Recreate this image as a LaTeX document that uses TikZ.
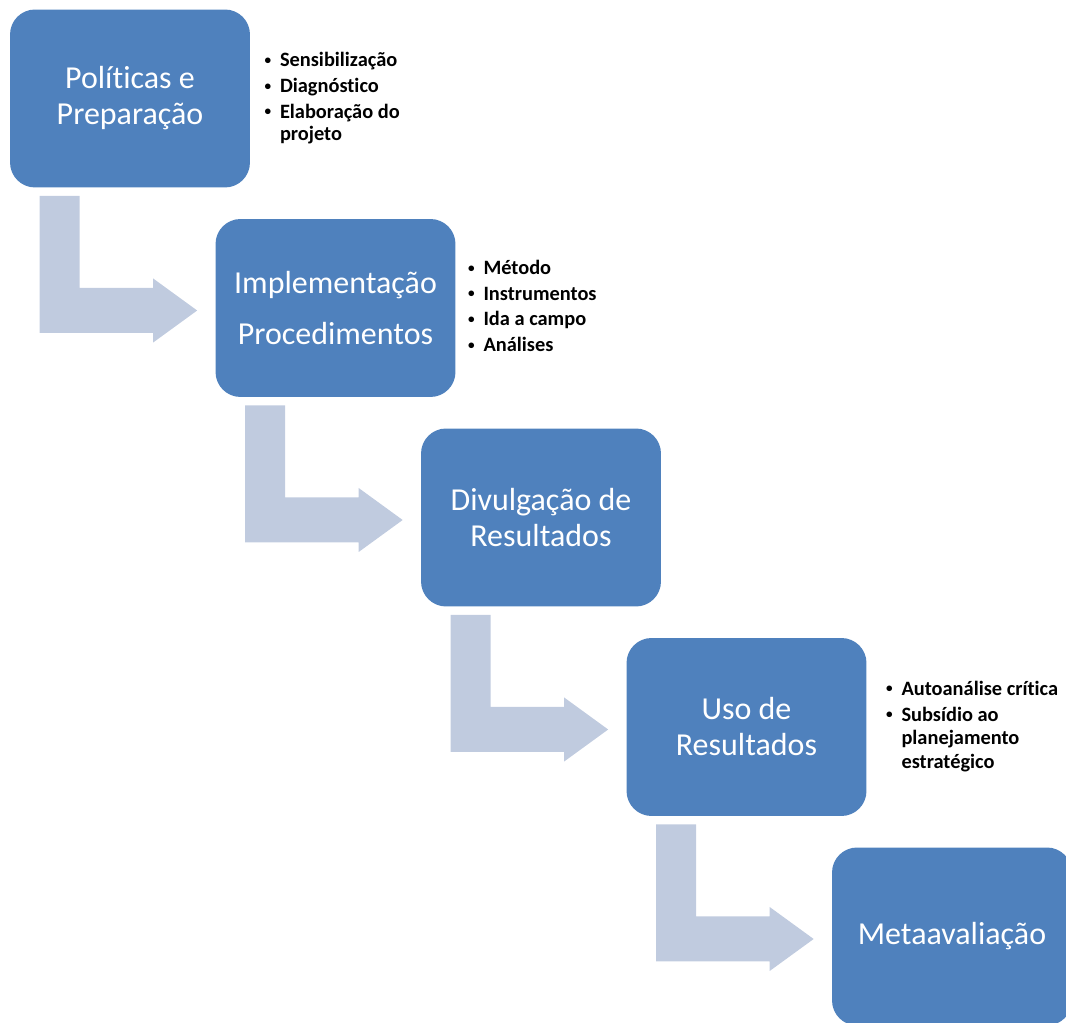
\documentclass[tikz,border=0pt]{standalone}
\usepackage{fontspec}
\setmainfont{Carlito}[Ligatures=NoCommon]
\usepackage{tikz}
\usetikzlibrary{shapes,arrows,positioning,calc}
\definecolor{etapa}{HTML}{4F81BD}
\definecolor{seta}{HTML}{C0CBDF}
\newcommand{\marca}{\raisebox{0.12em}{\fontsize{7.5}{7.5}\selectfont\textbullet}} % small list bullet

\begin{document}
\begin{tikzpicture}[x=0.02cm,y=-0.02cm,
	etapa/.style={fill=etapa, rounded corners=0.5cm, minimum width=4.8cm, minimum height=3.56cm,
		inner sep=0pt, align=center, text=white, font=\fontsize{18.2}{20.5}\selectfont},
	lista/.style={inner sep=0pt, font=\bfseries\fontsize{11.6}{14.6}\selectfont},
	seta/.style={fill=seta, draw=none}]
		\def\xs{205.5} %shift in x direction
		\def\ys{209.5} %shift in y direction
		\useasboundingbox (0,0) rectangle (1066,1023);
		\clip (0,0) rectangle (1066,1023);
		% the five stages
		\foreach \i/\txt in {1/Políticas e\\Preparação, 2/Implementação\\[8.5pt]Procedimentos,
			3/Divulgação de\\Resultados, 4/Uso de\\Resultados, 5/Metaavaliação}
		{
			\node [etapa] (b\i) at (130+\i*\xs-\xs, 98.5+\i*\ys-\ys) {\txt};
		}
		% bent arrows from one stage to the next
		\foreach \i in {1,...,4}
		{
			\pgfmathtruncatemacro{\j}{\i+1}
			\coordinate (s\i) at ($(b\i.south west)+(30,8)$); %top of the bar
			\coordinate (t\i) at ($(b\j.west)+(-18,2.5)$); %tip of the head
			\fill [seta] (s\i) -- ++(40,0) -- ($(s\i|-t\i)+(40,-22.5)$) -- ($(t\i)+(-44,-22.5)$)
				-- ($(t\i)+(-44,-32)$) -- (t\i) -- ($(t\i)+(-44,32)$) -- ($(t\i)+(-44,22.5)$)
				-- ($(s\i|-t\i)+(0,22.5)$) -- cycle;
		}
		% bullet lists
		\node [lista, right=0.28cm of b1] (l1) {\begin{tabular}{@{}l@{\hspace{5pt}}l@{}}
			\marca & Sensibilização\\
			\marca & Diagnóstico\\
			\marca & Elaboração do\\[-2pt]
			& projeto
		\end{tabular}};
		\node [lista, right=0.24cm of b2] (l2) {\begin{tabular}{@{}l@{\hspace{5pt}}l@{}}
			\marca & Método\\
			\marca & Instrumentos\\
			\marca & Ida a campo\\
			\marca & Análises
		\end{tabular}};
		\node [lista, right=0.38cm of b4] (l4) {\begin{tabular}{@{}l@{\hspace{5pt}}l@{}}
			\marca & Autoanálise crítica\\
			\marca & Subsídio ao\\[-1pt]
			& planejamento\\[-1pt]
			& estratégico
		\end{tabular}};
\end{tikzpicture}
\end{document}
